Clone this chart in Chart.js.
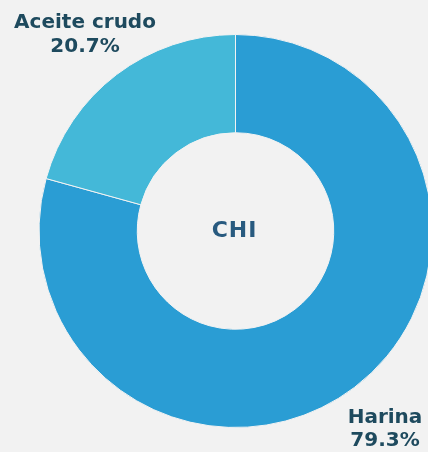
<!DOCTYPE html>
<html>
<head>
<meta charset="utf-8">
<script src="https://cdn.jsdelivr.net/npm/chart.js@4"></script>
<style>
  html, body { margin: 0; padding: 0; background: #f2f2f2; overflow: hidden; }
  #wrap { width: 434px; height: 452px; position: relative; }
</style>
</head>
<body>
<div id="wrap"><canvas id="donut"></canvas></div>
<script>
// datos del gráfico
var categorias = ["Harina", "Aceite crudo"];
var valores = [79.3, 20.7];
var colores = ["#2a9dd4", "#44b8d8"];
var centro = "CHI";

// etiquetas fuera del anillo + texto central
var etiquetas = {
  id: 'etiquetas',
  afterDraw: function(chart) {
    var ctx = chart.ctx;
    var arc = chart.getDatasetMeta(0).data[0];
    ctx.save();
    ctx.textAlign = 'center';
    ctx.textBaseline = 'middle';
    ctx.fillStyle = '#285a7f';
    ctx.font = 'bold 22px "DejaVu Sans"';
    if (ctx.letterSpacing !== undefined) ctx.letterSpacing = '1px';
    ctx.fillText(centro, arc.x - 1, arc.y);
    if (ctx.letterSpacing !== undefined) ctx.letterSpacing = '0px';

    ctx.fillStyle = '#1e4a5e';
    ctx.font = 'bold 20px "DejaVu Sans"';
    // Aceite crudo arriba a la izquierda
    ctx.fillText(categorias[1], 85, 23);
    ctx.fillText(valores[1].toFixed(1) + '%', 85, 47);
    // Harina abajo a la derecha
    ctx.fillText(categorias[0], 385, 418);
    ctx.fillText(valores[0].toFixed(1) + '%', 385, 441);
    ctx.restore();
  }
};

var donutChart = new Chart(document.getElementById('donut'), {
  type: 'doughnut',
  data: {
    labels: categorias,
    datasets: [{
      data: valores,
      backgroundColor: colores,
      borderColor: '#f2f2f2',
      borderWidth: 1
    }]
  },
  options: {
    responsive: true,
    maintainAspectRatio: false,
    animation: false,
    cutout: '50%',
    layout: { padding: { left: 38, right: 1, top: 34, bottom: 24 } },
    plugins: {
      legend: { display: false },
      tooltip: { enabled: false }
    }
  },
  plugins: [etiquetas]
});
</script>
</body>
</html>
